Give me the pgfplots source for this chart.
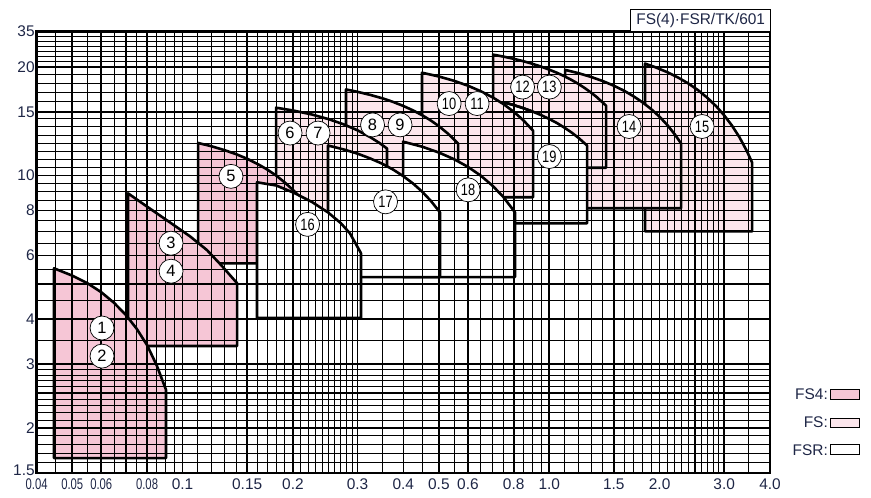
\documentclass[border=0pt]{standalone}
\usepackage{fontspec}
\setmainfont{Liberation Sans}
\usepackage{graphicx}
\usepackage{pgfplots}
\pgfplotsset{compat=1.18}
\definecolor{pkA}{HTML}{F6C6D6}
\definecolor{pkB}{HTML}{FCE6EC}
\definecolor{lab}{HTML}{1E2646}
\newcommand{\fs}{\fontsize{15.5}{17}\selectfont}
\newcommand{\nn}[1]{\scalebox{0.78}[1]{#1}}
\begin{document}
\begin{tikzpicture}[x=1bp,y=1bp]
\begin{axis}[
  at={(0,0)}, anchor=south west, scale only axis,
  width=733.3bp, height=441.3bp,
  xmode=log, ymode=log,
  xmin=0.04, xmax=4, ymin=1.5, ymax=25,
  axis on top,
  grid=both,
  major grid style={black, line width=1.7bp},
  minor grid style={black, line width=0.9bp},
  major tick length=0pt, minor tick length=0pt,
  axis line style={line width=2.6bp},
  tick label style={font=\fs, text=lab},
  xticklabel style={yshift=-2bp},
  yticklabel style={xshift=1.5bp},
  xtick={0.04,0.05,0.06,0.07,0.08,0.1,0.15,0.2,0.25,0.3,0.4,0.5,0.6,0.7,0.8,1,1.5,2,2.5,3,4},
  xticklabels={\scalebox{0.73}[1]{0.04},\scalebox{0.73}[1]{0.05},\scalebox{0.73}[1]{0.06},{},\scalebox{0.73}[1]{0.08},0.1,0.15,0.2,{},0.3,0.4,0.5,0.6,{},0.8,1.0,1.5,2.0,{},3.0,4.0},
  minor xtick={0.045,0.055,0.065,0.075,0.085,0.09,0.095,0.11,0.12,0.13,0.14,0.16,0.17,0.18,0.19,0.21,0.22,0.23,0.24,0.26,0.27,0.28,0.29,0.35,0.45,0.55,0.65,0.75,0.85,0.9,0.95,1.1,1.2,1.3,1.4,1.6,1.7,1.8,1.9,2.1,2.2,2.3,2.4,2.6,2.7,2.8,2.9,3.5},
  ytick={1.5,2,2.5,3,4,5,6,7,8,10,15,20,25},
  yticklabels={\raisebox{5bp}{1.5},2,{},3,4,{},6,{},8,10,15,20,\raisebox{2bp}{35}},
  minor ytick={1.6,1.7,1.8,1.9,2.1,2.2,2.3,2.4,2.6,2.7,2.8,2.9,3.5,4.5,5.5,6.5,7.5,8.5,9,9.5,10.53,11.09,11.67,12.29,12.94,13.63,14.35,16,17,18,19,20.65,21.31,22.0,22.71,23.44,24.2},
  every axis plot/.append style={line width=2.6bp, line join=round, draw=black},
]
% FS (light pink) and FSR (white) regions, back to front
\addplot[fill=pkB] coordinates {(1.825,7.0) (1.825,20.4) (1.95,19.92) (2.1,19.31) (2.25,18.65) (2.4,17.95) (2.55,17.20) (2.7,16.40) (2.85,15.56) (3.0,14.67) (3.15,13.74) (3.3,12.77) (3.45,11.74) (3.575,10.86) (3.575,7.0)} --cycle;
\addplot[fill=pkB] coordinates {(1.1047,8.11) (1.1047,19.6) (1.2,19.20) (1.3,18.74) (1.4,18.25) (1.5,17.72) (1.6,17.16) (1.7,16.55) (1.8,15.91) (1.9,15.24) (2.0,14.53) (2.1,13.78) (2.2,12.99) (2.289,12.26) (2.289,8.11)} --cycle;
\addplot[fill=pkB] coordinates {(0.7027,10.5) (0.7027,21.6) (0.75,21.33) (0.8,21.03) (0.85,20.71) (0.9,20.37) (0.95,20.01) (1.0,19.63) (1.05,19.24) (1.1,18.82) (1.15,18.38) (1.2,17.93) (1.25,17.45) (1.3,16.96) (1.35,16.45) (1.429,15.6) (1.429,10.5)} --cycle;
\addplot[fill=white] coordinates {(0.7578,7.37) (0.7578,15.9) (0.8,15.66) (0.85,15.35) (0.9,15.03) (0.95,14.69) (1.0,14.33) (1.05,13.96) (1.1,13.56) (1.15,13.15) (1.2,12.72) (1.268,12.1) (1.268,7.37)} --cycle;
\addplot[fill=pkB] coordinates {(0.4498,8.70) (0.4498,19.25) (0.5,18.79) (0.55,18.28) (0.6,17.72) (0.65,17.11) (0.7,16.46) (0.75,15.76) (0.8,15.01) (0.85,14.21) (0.9034,13.3) (0.9034,8.70)} --cycle;
% visible start of curve 19 across region 10-11
\addplot[fill=none] coordinates {(0.7578,15.9) (0.8,15.66) (0.85,15.35) (0.9034,15.01)};
\addplot[fill=pkB] coordinates {(0.2791,9) (0.2791,17.3) (0.3,17.04) (0.325,16.71) (0.35,16.36) (0.375,15.98) (0.4,15.57) (0.425,15.14) (0.45,14.68) (0.475,14.20) (0.5,13.69) (0.53,13.04) (0.564,12.26) (0.564,9)} --cycle;
\addplot[fill=pkB] coordinates {(0.1799,8.5) (0.1799,15.4) (0.2,15.13) (0.225,14.75) (0.25,14.32) (0.275,13.85) (0.3,13.33) (0.325,12.76) (0.345,12.28) (0.361,11.87) (0.361,7.5) (0.2492,7.5)} --cycle;
\addplot[fill=white] coordinates {(0.3993,5.23) (0.3993,12.4) (0.45,12.01) (0.5,11.57) (0.55,11.09) (0.6,10.56) (0.65,9.99) (0.7,9.37) (0.75,8.71) (0.8068,7.9) (0.8068,5.23)} --cycle;
\addplot[fill=white] coordinates {(0.2492,5.23) (0.2492,12.1) (0.275,11.8) (0.3,11.49) (0.325,11.14) (0.35,10.78) (0.375,10.38) (0.4,9.95) (0.425,9.50) (0.45,9.02) (0.475,8.51) (0.5037,7.9) (0.5037,5.23)} --cycle;
% FS4 (dark pink)
\addplot[fill=pkA] coordinates {(0.1102,5.71) (0.1102,12.3) (0.12,12.04) (0.13,11.75) (0.14,11.45) (0.15,11.12) (0.16,10.76) (0.17,10.39) (0.18,9.99) (0.19,9.56) (0.2,9.12) (0.2091,8.70) (0.2091,5.71)} --cycle;
\addplot[fill=pkA] coordinates {(0.071,3.37) (0.071,8.92) (0.0805,8.16) (0.0924,7.41) (0.1048,6.78) (0.1166,6.21) (0.1281,5.61) (0.1408,5.03) (0.1408,3.37)} --cycle;
\addplot[fill=pkA] coordinates {(0.0446,1.65) (0.0446,5.53) (0.05,5.28) (0.055,5.03) (0.06,4.75) (0.065,4.44) (0.07,4.11) (0.075,3.76) (0.08,3.39) (0.085,2.98) (0.0901,2.55) (0.0901,1.65)} --cycle;
% FSR 16
\addplot[fill=white] coordinates {(0.1596,4.03) (0.1596,9.57) (0.1799,9.38) (0.2002,8.97) (0.225,8.45) (0.2492,7.90) (0.27,7.38) (0.2861,6.91) (0.3066,6.09) (0.3066,4.03)} --cycle;
% label anchors
\coordinate (L1) at (axis cs:0.0603,3.78);
\coordinate (L2) at (axis cs:0.0603,3.16);
\coordinate (L3) at (axis cs:0.0930,6.49);
\coordinate (L4) at (axis cs:0.0930,5.43);
\coordinate (L5) at (axis cs:0.1355,9.94);
\coordinate (L6) at (axis cs:0.1964,13.1);
\coordinate (L7) at (axis cs:0.2341,13.1);
\coordinate (L8) at (axis cs:0.3297,13.8);
\coordinate (L9) at (axis cs:0.3918,13.8);
\coordinate (L10) at (axis cs:0.5332,15.81);
\coordinate (L11) at (axis cs:0.6357,15.81);
\coordinate (L12) at (axis cs:0.8457,17.56);
\coordinate (L13) at (axis cs:1.0007,17.56);
\coordinate (L14) at (axis cs:1.651,13.66);
\coordinate (L15) at (axis cs:2.611,13.66);
\coordinate (L16) at (axis cs:0.2192,7.32);
\coordinate (L17) at (axis cs:0.3577,8.45);
\coordinate (L18) at (axis cs:0.6008,9.12);
\coordinate (L19) at (axis cs:1.0007,11.28);
\end{axis}
\tikzset{cl/.style={circle, draw=black, fill=white, line width=0.7bp, minimum size=24bp, inner sep=0pt, font=\fontsize{16.5}{18}\selectfont}}
\foreach \i in {1,...,9} {\node[cl] at (L\i) {\i};}
\foreach \i in {10,...,19} {\node[cl] at (L\i) {\nn{\i}};}
% title box
\draw[line width=0.8bp, fill=white] (594,441.3) rectangle (734,463.7);
\node[font=\fs, text=lab] at (664,452.5) {FS(4)·FSR/TK/601};
% legend
\node[anchor=east, font=\fs, text=lab, inner sep=0pt] at (791.3,79) {FS4:};
\draw[line width=0.8bp, fill=pkA] (793.3,74) rectangle (822.3,84);
\node[anchor=east, font=\fs, text=lab, inner sep=0pt] at (791.3,51) {FS:};
\draw[line width=0.8bp, fill=pkB] (793.3,46) rectangle (822.3,55);
\node[anchor=east, font=\fs, text=lab, inner sep=0pt] at (791.3,23) {FSR:};
\draw[line width=0.8bp, fill=white] (793.3,19) rectangle (822.3,29);
\pgfresetboundingbox
\path (-36.7,-25) rectangle (834.3,473);
\end{tikzpicture}
\end{document}
